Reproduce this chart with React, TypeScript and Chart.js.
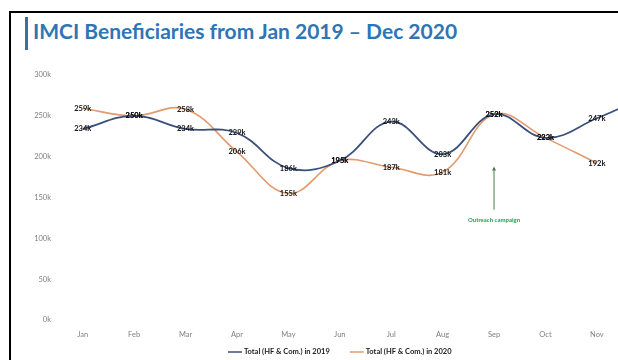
import React, { useEffect, useRef } from "react";
import { Chart, registerables } from "chart.js";

Chart.register(...registerables);

// ---- data (values in thousands) ----
const months = ["Jan", "Feb", "Mar", "Apr", "May", "Jun", "Jul", "Aug", "Sep", "Oct", "Nov", "Dec"];
const total2019 = [234, 250, 234, 229, 186, 195, 243, 203, 252, 223, 247, 275];
const total2020 = [259, 250, 258, 206, 155, 195, 187, 181, 252, 223, 192, null];
const seriesNames = ["Total (HF & Com.) in 2019", "Total (HF & Com.) in 2020"];
const yTickValues = [0, 50, 100, 150, 200, 250, 300];
const titleText = "IMCI Beneficiaries from Jan 2019 \u2013 Dec 2020";
const annotationText = "Outreach campaign";
const annotationMonth = "Sep";
const annotationFromTo = [135, 188];

const BLUE = "#3B4F7D";
const ORANGE = "#E39A6C";
const FONT = "Lato, 'Open Sans', sans-serif";

const dataLabelPlugin = {
  id: "dataLabels",
  afterDatasetsDraw(chart: any) {
    const ctx = chart.ctx;
    ctx.save();
    ctx.font = `bold 7.5px ${FONT}`;
    ctx.fillStyle = "#111";
    ctx.textAlign = "center";
    ctx.textBaseline = "middle";
    chart.data.datasets.forEach((ds: any, di: number) => {
      const meta = chart.getDatasetMeta(di);
      meta.data.forEach((pt: any, i: number) => {
        const v = ds.data[i];
        if (v == null) return;
        ctx.fillText(`${v}k`, pt.x, pt.y);
      });
    });
    ctx.restore();
  },
};

const annotationPlugin = {
  id: "outreach",
  afterDatasetsDraw(chart: any) {
    const ctx = chart.ctx;
    const xs = chart.scales.x;
    const ys = chart.scales.y;
    const x = xs.getPixelForValue(months.indexOf(annotationMonth));
    const yTop = ys.getPixelForValue(annotationFromTo[1]);
    const yBot = ys.getPixelForValue(annotationFromTo[0]);
    ctx.save();
    ctx.strokeStyle = "#4E7A4E";
    ctx.fillStyle = "#4E7A4E";
    ctx.lineWidth = 1;
    ctx.beginPath();
    ctx.moveTo(x, yBot);
    ctx.lineTo(x, yTop + 2);
    ctx.stroke();
    ctx.beginPath();
    ctx.moveTo(x, yTop);
    ctx.lineTo(x - 2, yTop + 4);
    ctx.lineTo(x + 2, yTop + 4);
    ctx.closePath();
    ctx.fill();
    ctx.font = `bold 6px ${FONT}`;
    ctx.fillStyle = "#1FA34A";
    ctx.textAlign = "center";
    ctx.textBaseline = "middle";
    ctx.fillText(annotationText, x, yBot + 10);
    ctx.restore();
  },
};

const legendPlugin = {
  id: "customLegend",
  afterDraw(chart: any) {
    const ctx = chart.ctx;
    const colors = [BLUE, ORANGE];
    ctx.save();
    ctx.font = `bold 7.5px ${FONT}`;
    ctx.textBaseline = "middle";
    ctx.textAlign = "left";
    const y = chart.chartArea.bottom + 32;
    let x = chart.chartArea.left + 171;
    seriesNames.forEach((name, i) => {
      ctx.strokeStyle = colors[i];
      ctx.lineWidth = 1.5;
      ctx.beginPath();
      ctx.moveTo(x, y);
      ctx.lineTo(x + 14, y);
      ctx.stroke();
      ctx.fillStyle = "#222";
      ctx.fillText(name, x + 16, y);
      x += 16 + ctx.measureText(name).width + 20;
    });
    ctx.restore();
  },
};

export default function App() {
  const ref = useRef<HTMLCanvasElement>(null);

  useEffect(() => {
    const chart = new Chart(ref.current!, {
      type: "line",
      data: {
        labels: months,
        datasets: [
          {
            label: seriesNames[0],
            data: total2019,
            borderColor: BLUE,
            backgroundColor: BLUE,
            borderWidth: 1.8,
            pointRadius: 0,
            tension: 0.4,
            fill: false,
          },
          {
            label: seriesNames[1],
            data: total2020,
            borderColor: ORANGE,
            backgroundColor: ORANGE,
            borderWidth: 1.6,
            pointRadius: 0,
            tension: 0.4,
            fill: false,
          },
        ],
      },
      options: {
        responsive: false,
        animation: false,
        devicePixelRatio: 1,
        layout: { padding: { top: 75, left: 0, right: 6, bottom: 0 } },
        plugins: {
          legend: { display: false },
          tooltip: { enabled: false },
          title: { display: false },
        },
        scales: {
          x: {
            type: "category",
            offset: true,
            grid: { display: false, drawTicks: false },
            border: { display: false },
            ticks: {
              color: "#808080",
              font: { size: 7.5, family: FONT },
              padding: 10,
              maxRotation: 0,
              autoSkip: false,
            },
            afterFit: (s: any) => {
              s.height = 40;
            },
          },
          y: {
            min: yTickValues[0],
            max: yTickValues[yTickValues.length - 1],
            grid: { display: false, drawTicks: false },
            border: { display: false },
            afterBuildTicks: (s: any) => {
              s.ticks = yTickValues.map((v) => ({ value: v }));
            },
            ticks: {
              color: "#808080",
              font: { size: 7.5, family: FONT },
              padding: 6,
              callback: (v: any) => `${v}k`,
            },
            afterFit: (s: any) => {
              s.width = 57;
            },
          },
        },
      },
      plugins: [dataLabelPlugin, annotationPlugin, legendPlugin],
    } as any);
    return () => chart.destroy();
  }, []);

  return (
    <div
      style={{
        position: "fixed",
        left: 0,
        top: 0,
        width: 618,
        height: 360,
        overflow: "hidden",
        background: "#fff",
      }}
    >
      <div
        style={{
          position: "absolute",
          left: 9,
          top: 11,
          width: 700,
          height: 400,
          borderLeft: "2px solid #000",
          borderTop: "2px solid #000",
          boxSizing: "border-box",
        }}
      />
      <div
        style={{
          position: "absolute",
          left: 25,
          top: 17,
          width: 3,
          height: 33,
          background: "#3A6EA5",
        }}
      />
      <div
        style={{
          position: "absolute",
          left: 33,
          top: 19,
          fontFamily: FONT,
          fontWeight: 700,
          fontSize: 21,
          lineHeight: "24px",
          color: "#2E75B6",
          whiteSpace: "nowrap",
        }}
      >
        {titleText}
      </div>
      <canvas
        ref={ref}
        width={680}
        height={360}
        style={{ position: "absolute", left: 0, top: 0, width: 680, height: 360 }}
      />
    </div>
  );
}
